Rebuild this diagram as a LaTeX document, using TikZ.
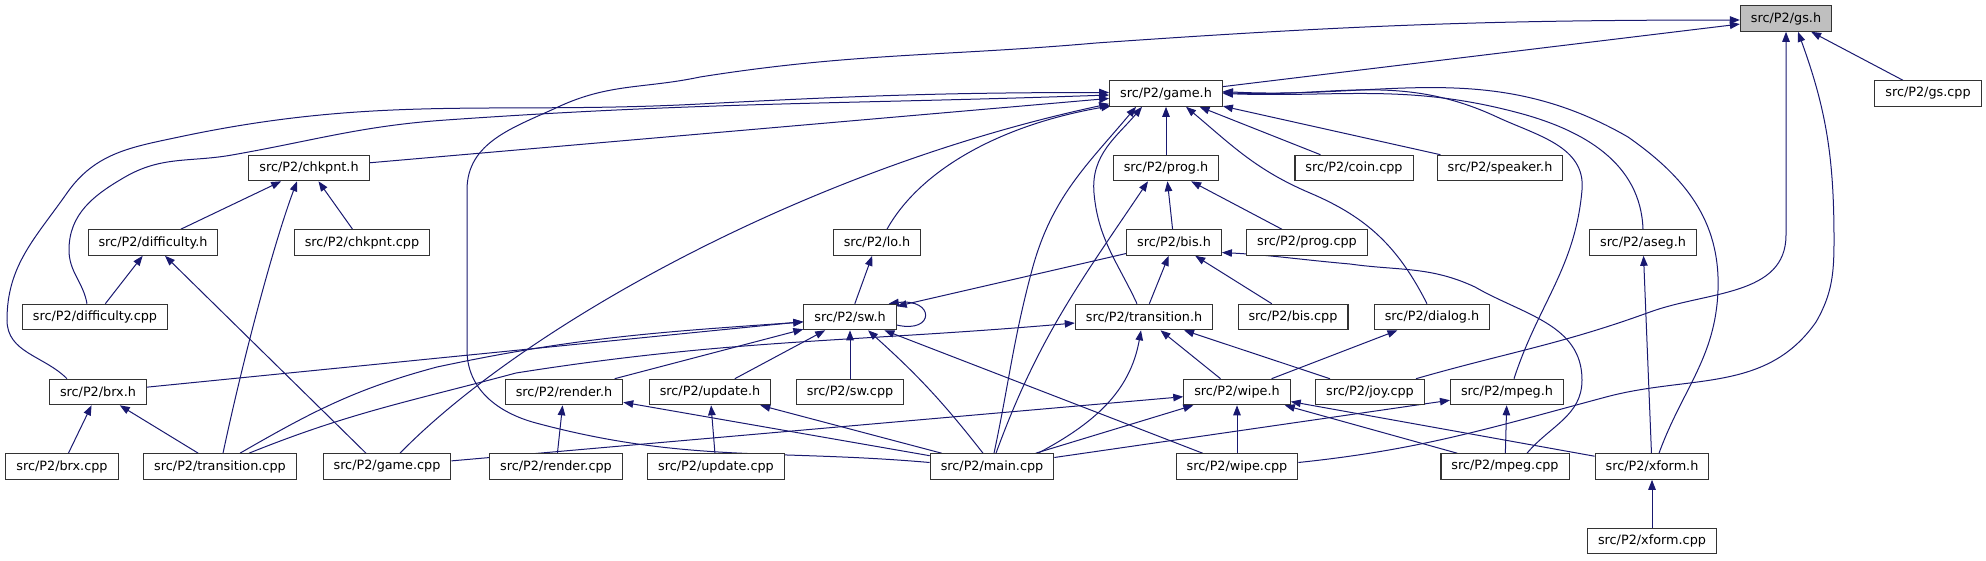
\documentclass[tikz,border=0pt]{standalone}
\usepackage{fontspec}
\setmainfont{DejaVu Sans}
\usetikzlibrary{arrows.meta}
\definecolor{edgeblue}{RGB}{25,25,112}
\definecolor{boxgray}{RGB}{191,191,191}
\pgfdeclarelayer{edges}
\pgfsetlayers{edges,main}
\begin{document}
\begin{tikzpicture}[x=1pt,y=-1pt,
  file/.style={draw=black!80, line width=1.1pt, fill=white, inner xsep=10.5pt, inner ysep=0pt, minimum height=25.5pt, font=\fontsize{12.8}{15}\selectfont},
  cur/.style={file, fill=boxgray},
  dep/.style={draw=edgeblue, line width=1pt, -{Triangle[length=10pt,width=7.5pt]}}]
\useasboundingbox (0,0) rectangle (1986,560);
% nodes
\node[cur]  (gs)        at (1786,18.5) {src/P2/gs.h};
\node[file] (game)      at (1166,93.5) {src/P2/game.h};
\node[file] (gscpp)     at (1928,93.5) {src/P2/gs.cpp};
\node[file] (chkpnth)   at (309,168)   {src/P2/chkpnt.h};
\node[file] (progh)     at (1166,168)  {src/P2/prog.h};
\node[file] (coin)      at (1354,168)  {src/P2/coin.cpp};
\node[file] (speaker)   at (1500,168)  {src/P2/speaker.h};
\node[file] (diffh)     at (153,242.5) {src/P2/difficulty.h};
\node[file] (chkcpp)    at (362,242.5) {src/P2/chkpnt.cpp};
\node[file] (loh)       at (877,242.5) {src/P2/lo.h};
\node[file] (bish)      at (1174,242.5) {src/P2/bis.h};
\node[file] (progcpp)   at (1307,242.5) {src/P2/prog.cpp};
\node[file] (aseg)      at (1643,242.5) {src/P2/aseg.h};
\node[file] (diffcpp)   at (95,317)    {src/P2/difficulty.cpp};
\node[file] (swh)       at (850,317)   {src/P2/sw.h};
\node[file] (transh)    at (1144,317)  {src/P2/transition.h};
\node[file] (biscpp)    at (1293,317)  {src/P2/bis.cpp};
\node[file] (dialog)    at (1432,317)  {src/P2/dialog.h};
\node[file] (brxh)      at (98,392)    {src/P2/brx.h};
\node[file] (renderh)   at (564,392)   {src/P2/render.h};
\node[file] (updateh)   at (710,392)   {src/P2/update.h};
\node[file] (swcpp)     at (850,392)   {src/P2/sw.cpp};
\node[file] (wipeh)     at (1237,392)  {src/P2/wipe.h};
\node[file] (joy)       at (1370,392)  {src/P2/joy.cpp};
\node[file] (mpegh)     at (1507,392)  {src/P2/mpeg.h};
\node[file] (brxcpp)    at (62,466.5)  {src/P2/brx.cpp};
\node[file] (transcpp)  at (220,466.5) {src/P2/transition.cpp};
\node[file] (gamecpp)   at (387,466.5) {src/P2/game.cpp};
\node[file] (rendercpp) at (556,466.5) {src/P2/render.cpp};
\node[file] (updatecpp) at (716,466.5) {src/P2/update.cpp};
\node[file] (maincpp)   at (992,466.5) {src/P2/main.cpp};
\node[file] (wipecpp)   at (1237,466.5) {src/P2/wipe.cpp};
\node[file] (mpegcpp)   at (1505,466.5) {src/P2/mpeg.cpp};
\node[file] (xformh)    at (1652,466.5) {src/P2/xform.h};
\node[file] (xformcpp)  at (1652,541)  {src/P2/xform.cpp};
\begin{pgfonlayer}{edges}
% straight edges
\draw[dep] (game) -- (gs);
\draw[dep] (gscpp) -- (gs);
\draw[dep] (chkpnth) -- (game);
\draw[dep] (progh) -- (game);
\draw[dep] (coin) -- (game);
\draw[dep] (speaker) -- (game);
\draw[dep] (diffh) -- (chkpnth);
\draw[dep] (chkcpp) -- (chkpnth);
\draw[dep] (diffcpp) -- (diffh);
\draw[dep] (brxcpp) -- (brxh);
\draw[dep] (transcpp) -- (brxh);
\draw[dep] (swh) -- (loh);
\draw[dep] (bish) -- (progh);
\draw[dep] (progcpp) -- (progh);
\draw[dep] (bish) -- (swh);
\draw[dep] (transh) -- (bish);
\draw[dep] (biscpp) -- (bish);
\draw[dep] (brxh) -- (swh);
\draw[dep] (renderh) -- (swh);
\draw[dep] (updateh) -- (swh);
\draw[dep] (swcpp) -- (swh);
\draw[dep] (wipecpp) -- (swh);
\draw[dep] (wipeh) -- (transh);
\draw[dep] (joy) -- (transh);
\draw[dep] (wipeh) -- (dialog);
\draw[dep] (gamecpp) -- (wipeh);
\draw[dep] (maincpp) -- (wipeh);
\draw[dep] (wipecpp) -- (wipeh);
\draw[dep] (mpegcpp) -- (wipeh);
\draw[dep] (xformh) -- (wipeh);
\draw[dep] (mpegcpp) -- (mpegh);
\draw[dep] (maincpp) -- (mpegh);
\draw[dep] (rendercpp) -- (renderh);
\draw[dep] (maincpp) -- (renderh);
\draw[dep] (updatecpp) -- (updateh);
\draw[dep] (maincpp) -- (updateh);
\draw[dep] (xformh) -- (aseg);
\draw[dep] (xformcpp) -- (xformh);
\draw[dep] ([xshift=-21pt]gamecpp.north) -- ([xshift=12pt]diffh.south);
% curved edges
\draw[dep] ([xshift=-31pt]brxh.north) to[out=135,in=-90] (7,320) to[out=90,in=-125] (67,193) to[out=55,in=-168] (179,137) to[out=12,in=-177] (700,104) to[out=3,in=180] ([yshift=1pt]game.west);
\draw[dep] ([xshift=-8pt]diffcpp.north) to[out=100,in=-90] (69,250) to[out=90,in=-150] (125,177) to[out=30,in=-170] (232,155) to[out=10,in=-176] (446,120) to[out=4,in=-178] ([yshift=-1.5pt]game.west);
\draw[dep] ([xshift=13pt]gamecpp.north) .. controls (520,330) and (800,170) .. ([yshift=3pt]game.south west);
\draw[dep] ([xshift=10pt]loh.north) .. controls (920,170) and (1000,125) .. ([xshift=2pt,yshift=1pt]game.south west);
\draw[dep] ([xshift=2pt]maincpp.north) to[out=78,in=-105] (1032,270) to[out=75,in=-130] ([xshift=-30pt]game.south);
\draw[dep] ([xshift=4pt]maincpp.north) to[out=70,in=-124] ([xshift=-18pt]progh.south);
\draw[dep] ([xshift=-7pt]transh.north) to[out=115,in=-85] (1094,193) to[out=95,in=-130] ([xshift=-24pt]game.south);
\draw[dep] ([xshift=-5pt]dialog.north) to[out=117,in=-23] (1310,193) to[out=157,in=-40] ([xshift=20pt]game.south);
\draw[dep] (aseg.north) to[out=92,in=-15] (1519,113) to[out=165,in=-2] (game.east);
\draw[dep] ([xshift=7pt]mpegh.north) to[out=72,in=-95] (1582,190) to[out=85,in=-25] (1497,117) to[out=155,in=-3] ([yshift=1pt]game.east);
\draw[dep] ([xshift=7pt]xformh.north) to[out=70,in=-92] (1718,290) to[out=88,in=-35] (1628,137) to[out=150,in=-3] ([yshift=2pt]game.east);
\draw[dep] ([yshift=4pt]maincpp.west) to[out=175,in=-15] (536,423) to[out=165,in=-90] (467,350) -- (467,190) to[out=90,in=-155] (558,107) to[out=25,in=-168] (700,77) to[out=9,in=-175] (1096,43) to[out=4,in=180] ([yshift=-1.5pt]gs.west);
\draw[dep] ([xshift=46pt]joy.north) to[out=16,in=-160] (1650,312) to[out=20,in=-90] (1786,235) -- (gs.south);
\draw[dep] ([yshift=4pt]wipecpp.east) to[out=6,in=-165] (1606,397) to[out=15,in=-125] (1816,322) to[out=60,in=-90] (1834,240) to[out=90,in=-70] ([xshift=12pt]gs.south);
\draw[dep] ([xshift=22pt]mpegcpp.north) to[out=50,in=-90] (1582,380) to[out=90,in=-30] (1475,287) to[out=155,in=-8] (1350,264) to[out=175,in=-3] ([yshift=-10pt]bish.east);
\draw[dep] ([xshift=29pt]transcpp.north) to[out=22,in=-165] (516,373) to[out=9,in=-175] ([yshift=-6pt]transh.west);
\draw[dep] ([xshift=20pt]transcpp.north) to[out=30,in=-165] (437,367) to[out=12,in=-176] ([yshift=-5pt]swh.west);
\draw[dep] ([xshift=-9pt]maincpp.north) to[out=128,in=-42] ([xshift=18pt]swh.south);
\draw[dep] ([xshift=46pt]maincpp.north) to[out=28,in=-100] ([xshift=-3pt]transh.south);
\draw[dep] ([xshift=3pt]transcpp.north) .. controls (245,350) and (275,240) .. ([xshift=-12pt]chkpnth.south);
\draw[dep] ([yshift=-8pt]swh.east) .. controls (935,334) and (935,298) .. ([xshift=-8pt]swh.north east);
\end{pgfonlayer}
\end{tikzpicture}
\end{document}
